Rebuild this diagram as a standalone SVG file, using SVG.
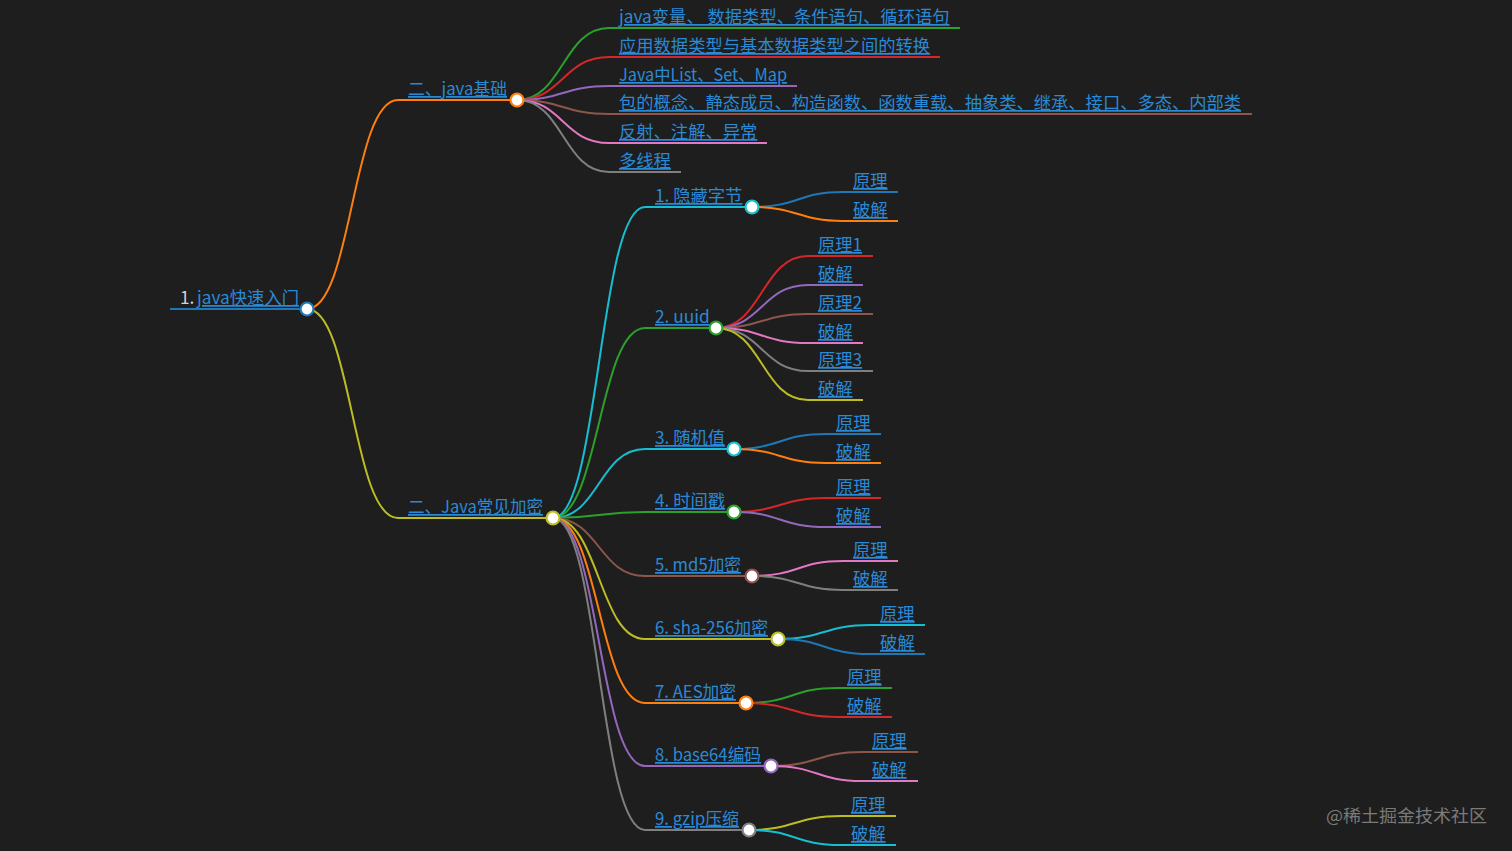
<svg xmlns="http://www.w3.org/2000/svg" width="1512" height="851" viewBox="0 0 1512 851">
<style>
.t{font-family:"Noto Sans CJK SC","Microsoft YaHei",sans-serif;font-size:17.3px;fill:#2a8ad6;text-decoration:underline}
.w{font-family:"Noto Sans CJK SC",sans-serif;font-size:17.3px;fill:#d4d4d4}
.wm{font-family:"Noto Sans CJK SC",sans-serif;font-size:17.3px;fill:#7a7a7a}
path,line{fill:none;stroke-width:2}
circle{fill:#fff;stroke-width:2.2}
.blue{stroke:#1f77b4}.orange{stroke:#ff7f0e}.green{stroke:#2ca02c}.red{stroke:#d62728}.purple{stroke:#9467bd}
.brown{stroke:#8c564b}.pink{stroke:#e377c2}.gray{stroke:#7f7f7f}.yellow{stroke:#bcbd22}.cyan{stroke:#17becf}
</style>
<rect width="1512" height="851" fill="#1e1e1e"/>
<g id="connectors">
<path class="orange" d="M307,309 C352,309 352,100 398,100"/>
<path class="yellow" d="M307,309 C352,309 352,518 398,518"/>
<path class="green" d="M517,100 C563,100 563,28 609,28"/>
<path class="red" d="M517,100 C563,100 563,57 609,57"/>
<path class="purple" d="M517,100 C563,100 563,86 609,86"/>
<path class="brown" d="M517,100 C563,100 563,114 609,114"/>
<path class="pink" d="M517,100 C563,100 563,143 609,143"/>
<path class="gray" d="M517,100 C563,100 563,172 609,172"/>
<path class="cyan" d="M553,518 C599,518 599,207 645,207"/>
<path class="green" d="M553,518 C599,518 599,328 645,328"/>
<path class="cyan" d="M553,518 C599,518 599,449 645,449"/>
<path class="green" d="M553,518 C599,518 599,512 645,512"/>
<path class="brown" d="M553,518 C599,518 599,576 645,576"/>
<path class="yellow" d="M553,518 C599,518 599,639 645,639"/>
<path class="orange" d="M553,518 C599,518 599,703 645,703"/>
<path class="purple" d="M553,518 C599,518 599,766 645,766"/>
<path class="gray" d="M553,518 C599,518 599,830 645,830"/>
<path class="blue" d="M752,207 C798,207 798,192 843,192"/>
<path class="orange" d="M752,207 C798,207 798,221 843,221"/>
<path class="red" d="M716,328 C762,328 762,256 808,256"/>
<path class="purple" d="M716,328 C762,328 762,285 808,285"/>
<path class="brown" d="M716,328 C762,328 762,314 808,314"/>
<path class="pink" d="M716,328 C762,328 762,343 808,343"/>
<path class="gray" d="M716,328 C762,328 762,371 808,371"/>
<path class="yellow" d="M716,328 C762,328 762,400 808,400"/>
<path class="blue" d="M734,449 C780,449 780,434 826,434"/>
<path class="orange" d="M734,449 C780,449 780,463 826,463"/>
<path class="red" d="M734,512 C780,512 780,498 826,498"/>
<path class="purple" d="M734,512 C780,512 780,527 826,527"/>
<path class="pink" d="M752,576 C798,576 798,561 843,561"/>
<path class="gray" d="M752,576 C798,576 798,590 843,590"/>
<path class="cyan" d="M778,639 C824,639 824,625 870,625"/>
<path class="blue" d="M778,639 C824,639 824,654 870,654"/>
<path class="green" d="M746,703 C792,703 792,688 837,688"/>
<path class="red" d="M746,703 C792,703 792,717 837,717"/>
<path class="brown" d="M771,766 C817,766 817,752 862,752"/>
<path class="pink" d="M771,766 C817,766 817,781 862,781"/>
<path class="yellow" d="M749,830 C795,830 795,816 841,816"/>
<path class="cyan" d="M749,830 C795,830 795,845 841,845"/>
</g>
<g id="n-root"><line class="blue" x1="170" y1="309" x2="307" y2="309"/><text class="w" x="180" y="304">1.</text><text class="t" x="197" y="304">java快速入门</text><circle class="blue" cx="307" cy="309" r="6.5"/></g>
<g id="n-basic"><line class="orange" x1="398" y1="100" x2="517" y2="100"/><text class="t" x="408" y="95" textLength="99" lengthAdjust="spacingAndGlyphs">二、java基础</text><circle class="orange" cx="517" cy="100" r="6.5"/></g>
<g id="n-b1"><line class="green" x1="609" y1="28" x2="960" y2="28"/><text class="t" x="619" y="23">java变量、 数据类型、条件语句、循环语句</text></g>
<g id="n-b2"><line class="red" x1="609" y1="57" x2="940" y2="57"/><text class="t" x="619" y="52">应用数据类型与基本数据类型之间的转换</text></g>
<g id="n-b3"><line class="purple" x1="609" y1="86" x2="797" y2="86"/><text class="t" x="619" y="81" textLength="168" lengthAdjust="spacingAndGlyphs">Java中List、Set、Map</text></g>
<g id="n-b4"><line class="brown" x1="609" y1="114" x2="1252" y2="114"/><text class="t" x="619" y="109">包的概念、静态成员、构造函数、函数重载、抽象类、继承、接口、多态、内部类</text></g>
<g id="n-b5"><line class="pink" x1="609" y1="143" x2="767" y2="143"/><text class="t" x="619" y="138">反射、注解、异常</text></g>
<g id="n-b6"><line class="gray" x1="609" y1="172" x2="681" y2="172"/><text class="t" x="619" y="167">多线程</text></g>
<g id="n-enc"><line class="yellow" x1="398" y1="518" x2="553" y2="518"/><text class="t" x="408" y="513" textLength="135" lengthAdjust="spacingAndGlyphs">二、Java常见加密</text><circle class="yellow" cx="553" cy="518" r="6.5"/></g>
<g id="n-e1"><line class="cyan" x1="645" y1="207" x2="752" y2="207"/><text class="t" x="655" y="202">1. 隐藏字节</text><circle class="cyan" cx="752" cy="207" r="6.5"/></g>
<g id="n-e1a"><line class="blue" x1="843" y1="192" x2="898" y2="192"/><text class="t" x="853" y="187">原理</text></g>
<g id="n-e1b"><line class="orange" x1="843" y1="221" x2="898" y2="221"/><text class="t" x="853" y="216">破解</text></g>
<g id="n-e2"><line class="green" x1="645" y1="328" x2="716" y2="328"/><text class="t" x="655" y="323">2. uuid</text><circle class="green" cx="716" cy="328" r="6.5"/></g>
<g id="n-e2a"><line class="red" x1="808" y1="256" x2="873" y2="256"/><text class="t" x="818" y="251">原理1</text></g>
<g id="n-e2b"><line class="purple" x1="808" y1="285" x2="863" y2="285"/><text class="t" x="818" y="280">破解</text></g>
<g id="n-e2c"><line class="brown" x1="808" y1="314" x2="873" y2="314"/><text class="t" x="818" y="309">原理2</text></g>
<g id="n-e2d"><line class="pink" x1="808" y1="343" x2="863" y2="343"/><text class="t" x="818" y="338">破解</text></g>
<g id="n-e2e"><line class="gray" x1="808" y1="371" x2="873" y2="371"/><text class="t" x="818" y="366">原理3</text></g>
<g id="n-e2f"><line class="yellow" x1="808" y1="400" x2="863" y2="400"/><text class="t" x="818" y="395">破解</text></g>
<g id="n-e3"><line class="cyan" x1="645" y1="449" x2="734" y2="449"/><text class="t" x="655" y="444">3. 随机值</text><circle class="cyan" cx="734" cy="449" r="6.5"/></g>
<g id="n-e3a"><line class="blue" x1="826" y1="434" x2="881" y2="434"/><text class="t" x="836" y="429">原理</text></g>
<g id="n-e3b"><line class="orange" x1="826" y1="463" x2="881" y2="463"/><text class="t" x="836" y="458">破解</text></g>
<g id="n-e4"><line class="green" x1="645" y1="512" x2="734" y2="512"/><text class="t" x="655" y="507">4. 时间戳</text><circle class="green" cx="734" cy="512" r="6.5"/></g>
<g id="n-e4a"><line class="red" x1="826" y1="498" x2="881" y2="498"/><text class="t" x="836" y="493">原理</text></g>
<g id="n-e4b"><line class="purple" x1="826" y1="527" x2="881" y2="527"/><text class="t" x="836" y="522">破解</text></g>
<g id="n-e5"><line class="brown" x1="645" y1="576" x2="752" y2="576"/><text class="t" x="655" y="571" textLength="86" lengthAdjust="spacingAndGlyphs">5. md5加密</text><circle class="brown" cx="752" cy="576" r="6.5"/></g>
<g id="n-e5a"><line class="pink" x1="843" y1="561" x2="898" y2="561"/><text class="t" x="853" y="556">原理</text></g>
<g id="n-e5b"><line class="gray" x1="843" y1="590" x2="898" y2="590"/><text class="t" x="853" y="585">破解</text></g>
<g id="n-e6"><line class="yellow" x1="645" y1="639" x2="778" y2="639"/><text class="t" x="655" y="634" textLength="113" lengthAdjust="spacingAndGlyphs">6. sha-256加密</text><circle class="yellow" cx="778" cy="639" r="6.5"/></g>
<g id="n-e6a"><line class="cyan" x1="870" y1="625" x2="925" y2="625"/><text class="t" x="880" y="620">原理</text></g>
<g id="n-e6b"><line class="blue" x1="870" y1="654" x2="925" y2="654"/><text class="t" x="880" y="649">破解</text></g>
<g id="n-e7"><line class="orange" x1="645" y1="703" x2="746" y2="703"/><text class="t" x="655" y="698" textLength="81" lengthAdjust="spacingAndGlyphs">7. AES加密</text><circle class="orange" cx="746" cy="703" r="6.5"/></g>
<g id="n-e7a"><line class="green" x1="837" y1="688" x2="892" y2="688"/><text class="t" x="847" y="683">原理</text></g>
<g id="n-e7b"><line class="red" x1="837" y1="717" x2="892" y2="717"/><text class="t" x="847" y="712">破解</text></g>
<g id="n-e8"><line class="purple" x1="645" y1="766" x2="771" y2="766"/><text class="t" x="655" y="761" textLength="106" lengthAdjust="spacingAndGlyphs">8. base64编码</text><circle class="purple" cx="771" cy="766" r="6.5"/></g>
<g id="n-e8a"><line class="brown" x1="862" y1="752" x2="918" y2="752"/><text class="t" x="872" y="747">原理</text></g>
<g id="n-e8b"><line class="pink" x1="862" y1="781" x2="918" y2="781"/><text class="t" x="872" y="776">破解</text></g>
<g id="n-e9"><line class="gray" x1="645" y1="830" x2="749" y2="830"/><text class="t" x="655" y="825" textLength="84" lengthAdjust="spacingAndGlyphs">9. gzip压缩</text><circle class="gray" cx="749" cy="830" r="6.5"/></g>
<g id="n-e9a"><line class="yellow" x1="841" y1="816" x2="896" y2="816"/><text class="t" x="851" y="811">原理</text></g>
<g id="n-e9b"><line class="cyan" x1="841" y1="845" x2="896" y2="845"/><text class="t" x="851" y="840">破解</text></g>
<text class="wm" x="1326" y="822" textLength="161" lengthAdjust="spacingAndGlyphs">@稀土掘金技术社区</text>
</svg>
